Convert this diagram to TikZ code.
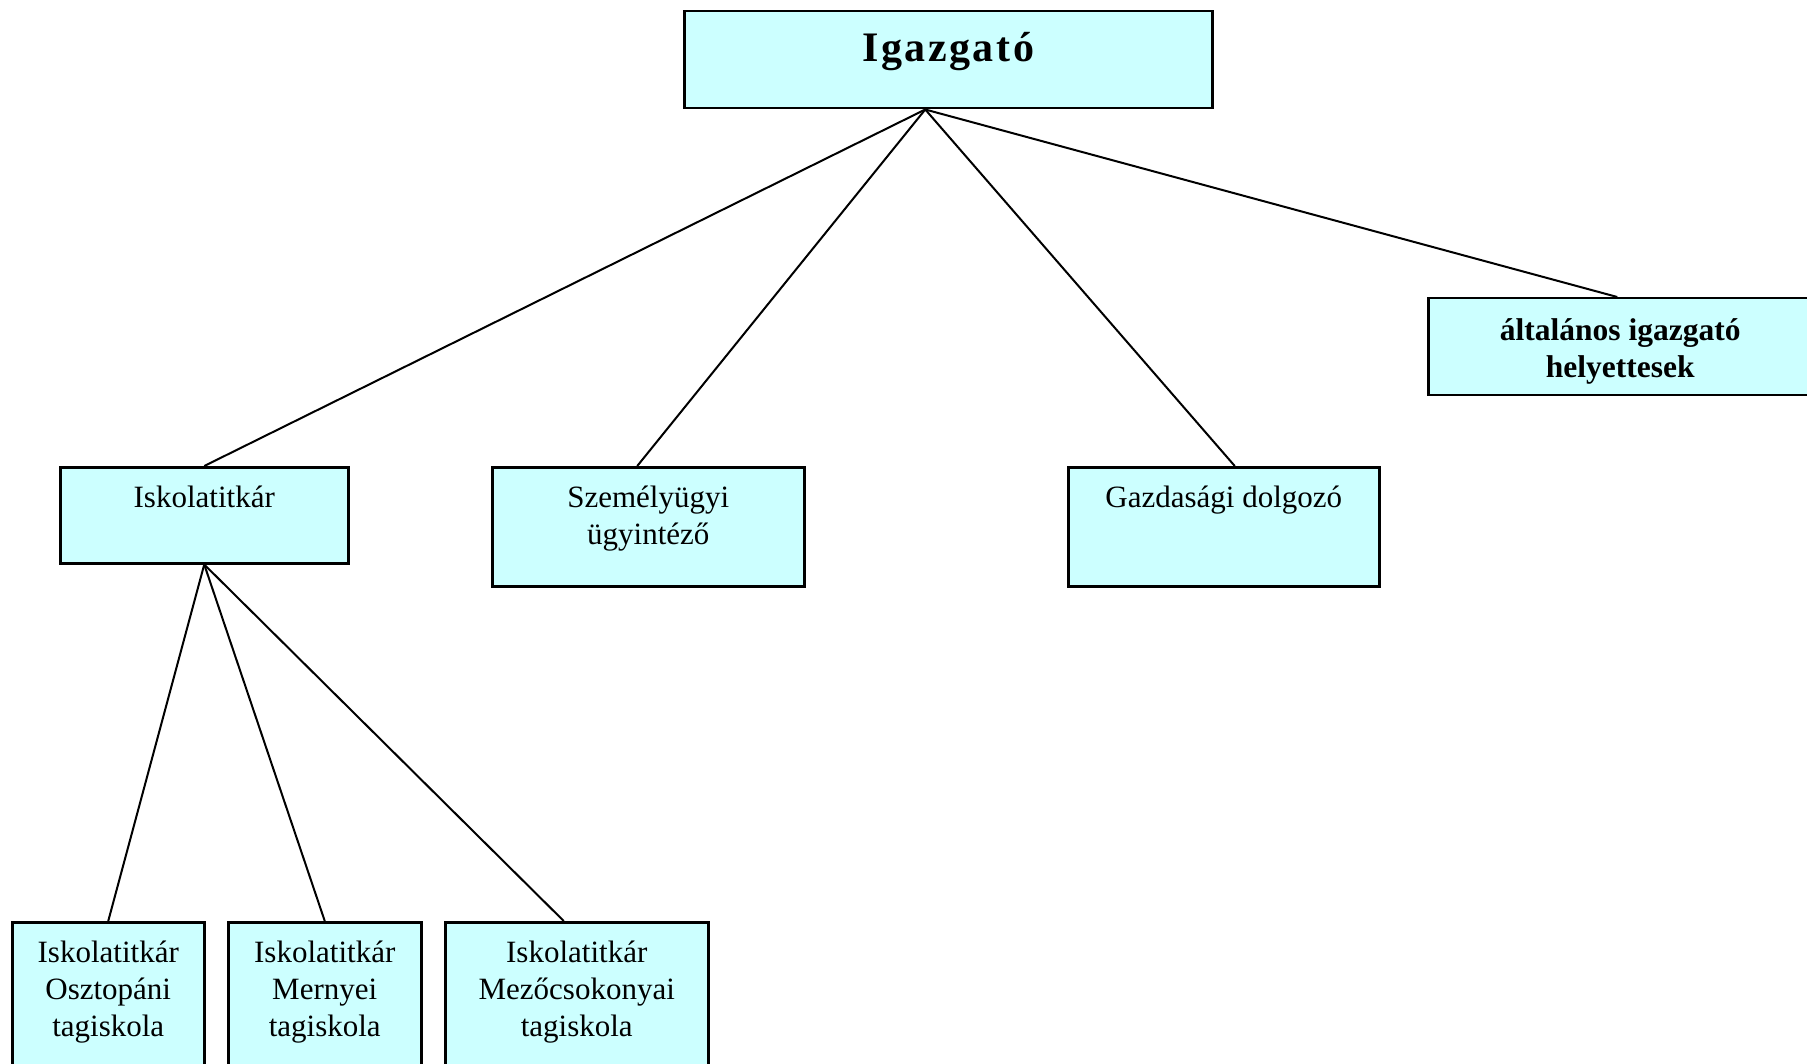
\documentclass[tikz,border=0pt]{standalone}
\usepackage{fontspec}
\setmainfont{Liberation Serif}
\newfontfamily\titlefont[LetterSpace=6]{Liberation Serif}
\usetikzlibrary{positioning,calc}
\definecolor{boxcyan}{HTML}{CCFFFF}

\begin{document}
\begin{tikzpicture}[x=1pt, y=-1pt,
    box/.style={draw, line width=2.5pt, fill=boxcyan, anchor=north west, inner sep=0pt},
    txt/.style={anchor=north, align=center, inner sep=0pt, font=\fontsize{31}{37}\selectfont},
    link/.style={line width=2pt}]
    \useasboundingbox (0,0) rectangle (1807,1064);

    % Top level
    \node[box, minimum width=528pt, minimum height=97pt] (igaz) at (683,10) {};
    \node[txt, below=22pt of igaz.north, font=\titlefont\bfseries\fontsize{42}{48}\selectfont] (igaztxt) {Igazgató};

    % Second level
    \node[box, minimum width=384pt, minimum height=97pt] (helyettes) at (1427,297) {};
    \node[txt, below=21pt of helyettes.north, font=\bfseries\fontsize{31.5}{37}\selectfont] (helyettestxt) {általános igazgató\\helyettesek};

    \node[box, minimum width=288pt, minimum height=96pt] (titkar) at (59,466) {};
    \node[txt, below=20pt of titkar.north] (titkartxt) {Iskolatitkár};

    \node[box, minimum width=312pt, minimum height=119pt] (szemely) at (491,466) {};
    \node[txt, below=20pt of szemely.north] (szemelytxt) {Személyügyi\\ügyintéző};

    \node[box, minimum width=311pt, minimum height=119pt] (gazd) at (1067,466) {};
    \node[txt, below=20pt of gazd.north] (gazdtxt) {Gazdasági dolgozó};

    % Tagiskolak
    \node[box, minimum width=192pt, minimum height=160pt] (osztop) at (11,921) {};
    \node[txt, below=20pt of osztop.north] (osztoptxt) {Iskolatitkár\\Osztopáni\\tagiskola};

    \node[box, minimum width=193pt, minimum height=160pt] (mernye) at (227,921) {};
    \node[txt, below=20pt of mernye.north] (mernyetxt) {Iskolatitkár\\Mernyei\\tagiskola};

    \node[box, minimum width=263pt, minimum height=160pt] (mezocs) at (444,921) {};
    \node[txt, below=20pt of mezocs.north] (mezocstxt) {Iskolatitkár\\Mezőcsokonyai\\tagiskola};

    % Lines
    \coordinate (igazfoot) at ([xshift=-23pt]igaz.south);
    \draw[link] (igazfoot) -- (titkar.north);
    \draw[link] (igazfoot) -- ([xshift=-11pt]szemely.north);
    \draw[link] (igazfoot) -- ([xshift=11pt]gazd.north);
    \draw[link] (igazfoot) -- ([xshift=-3pt]helyettes.north);

    \draw[link] (titkar.south) -- (osztop.north);
    \draw[link] (titkar.south) -- (mernye.north);
    \draw[link] (titkar.south) -- ([xshift=-13pt]mezocs.north);
\end{tikzpicture}
\end{document}
